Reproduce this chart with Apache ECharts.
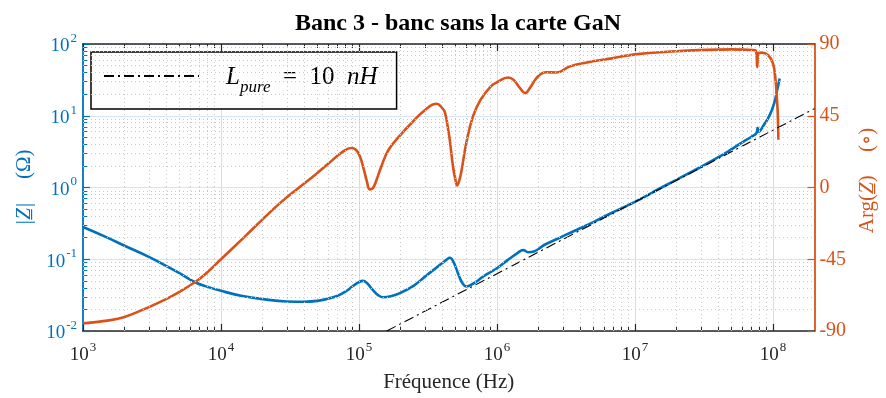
<!DOCTYPE html>
<html>
<head>
<meta charset="utf-8">
<script src="https://cdn.jsdelivr.net/npm/echarts@6/dist/echarts.min.js"></script>
<style>
  html, body { margin: 0; padding: 0; background: #fff; }
  #chart { width: 886px; height: 398px; }
</style>
</head>
<body>
<div id="chart"></div>
<script>
// Impedance magnitude |Z| (ohm) versus frequency (Hz)
const freqMag = [1e3, 1.5e3, 2e3, 3e3, 4e3, 5e3, 6.5e3, 8e3, 1e4, 1.4e4, 2e4, 3e4, 4e4, 5e4, 6e4, 7e4, 8e4, 9e4,
  1e5, 1.07e5, 1.15e5, 1.25e5, 1.38e5, 1.5e5, 1.7e5, 2e5, 2.5e5, 3e5, 3.5e5, 4e5, 4.3e5, 4.55e5, 4.8e5, 5.2e5, 5.6e5, 6e5,
  7e5, 8e5, 1e6, 1.2e6, 1.4e6, 1.55e6, 1.7e6, 1.85e6, 2.2e6, 2.7e6, 3.2e6, 4e6, 5e6, 7e6, 1e7, 1.5e7, 2e7, 3e7, 4e7,
  5e7, 6e7, 7e7, 7.6e7, 7.75e7, 7.9e7, 8.5e7, 9.5e7, 1.03e8, 1.08e8, 1.12e8];
const magZ = [0.281, 0.2, 0.154, 0.108, 0.081, 0.064, 0.0478, 0.0412, 0.0363, 0.031, 0.0278, 0.0258, 0.0256, 0.0263, 0.0283, 0.031, 0.0355, 0.042,
  0.048, 0.050, 0.046, 0.038, 0.0315, 0.0295, 0.0305, 0.034, 0.043, 0.057, 0.072, 0.088, 0.098, 0.105, 0.095, 0.065, 0.047, 0.0418,
  0.048, 0.058, 0.075, 0.098, 0.121, 0.134, 0.125, 0.128, 0.158, 0.19, 0.222, 0.27, 0.33, 0.455, 0.63, 0.96, 1.28, 1.93, 2.62,
  3.4, 4.25, 5.1, 5.75, 6.8, 6.0, 7.2, 10.3, 15.8, 24, 33];

// Impedance argument (degrees) versus frequency (Hz)
const freqArg = [1e3, 1.5e3, 2e3, 3e3, 4e3, 5e3, 6.7e3, 8e3, 1e4, 1.5e4, 2e4, 2.7e4, 3.5e4, 4.9e4, 6.1e4, 7.6e4, 8.8e4, 9.5e4,
  1.01e5, 1.07e5, 1.14e5, 1.2e5, 1.26e5, 1.33e5, 1.45e5, 1.64e5,
  2e5, 2.4e5, 3e5, 3.65e5, 4e5, 4.2e5, 4.4e5, 4.55e5, 4.8e5, 5e5, 5.15e5, 5.3e5, 5.5e5, 6e5, 6.7e5, 7.6e5, 9e5,
  1e6, 1.21e6, 1.32e6, 1.47e6, 1.6e6, 1.73e6, 1.98e6, 2.27e6, 2.7e6, 3.35e6, 4.4e6, 6.8e6, 1e7, 2e7, 3e7, 5e7,
  7.2e7, 7.55e7, 7.7e7, 7.85e7, 8.3e7, 9.2e7, 1e8, 1.045e8, 1.067e8, 1.084e8, 1.096e8];
const argZ = [-85.2, -83.5, -81.2, -75, -70, -65.5, -58.5, -53, -45, -30.5, -20, -9.5, -1.5, 8.5, 15.5, 22.3, 24.8, 23.7,
  20, 13.3, 4, -1.2, -0.5, 3.9, 13, 23.7,
  33, 40.4, 48.5, 52.5, 50, 47, 38, 30, 13.3, 5, 1.3, 3.5, 9.2, 28, 44.6, 55, 63.3,
  66, 69, 67.5, 62.3, 59.2, 62.3, 69.6, 72.3, 72.1, 75.8, 78.3, 81, 83.5, 85.5, 86.2, 86.6,
  86.2, 85.5, 75.5, 84.5, 84.6, 83.1, 78, 67.5, 57, 46.7, 30];

// Pure 10 nH inductance, straight line in log-log coordinates
const pureFreq = [1.59e5, 2e8];
const pureZ = [0.01, 12.57];

// Axis ticks
const freqDecades = [1e3, 1e4, 1e5, 1e6, 1e7, 1e8];
const magDecades = [1e-2, 1e-1, 1e0, 1e1, 1e2];
const argTicks = [-90, -45, 0, 45, 90];

function minorsOf(decades, upper) {
  const out = [];
  decades.forEach(d => {
    for (let k = 2; k <= 9; k++) {
      const v = d * k;
      if (v < upper * 0.999) out.push(v);
    }
  });
  return out;
}
const freqMinor = minorsOf(freqDecades, 2e8);
const magMinor = minorsOf(magDecades, 100);

const BLUE = '#0072BD';
const ORANGE = '#D95319';
const INK = '#262626';
const SERIF = '"Liberation Serif", "DejaVu Serif", serif';

const pow10 = v => {
  const e = Math.round(Math.log10(v));
  return '{b|10}{s|' + e + '}';
};
const supRich = color => ({
  b: { fontFamily: SERIF, fontSize: 19, color: color, verticalAlign: 'bottom', lineHeight: 24 },
  s: { fontFamily: SERIF, fontSize: 13, color: color, verticalAlign: 'top', lineHeight: 24, padding: [0, 0, 0, 1] }
});

const chart = echarts.init(document.getElementById('chart'), null, { renderer: 'canvas' });

const xBase = { type: 'log', logBase: 10, min: 1e3, max: 2e8, gridIndex: 0 };
const yBase = { type: 'log', logBase: 10, min: 1e-2, max: 1e2, gridIndex: 0 };

chart.setOption({
  animation: false,
  backgroundColor: '#fff',
  title: {
    text: 'Banc 3 - banc sans la carte GaN',
    left: 453, top: 7, textAlign: 'center',
    textStyle: { fontFamily: SERIF, fontWeight: 'bold', fontSize: 24, color: '#000' }
  },
  grid: { left: 83, right: 60, top: 44, bottom: 66, containLabel: false },
  legend: {
    data: ['pure'],
    left: 91, top: 52,
    padding: [13, 19, 13, 12],
    backgroundColor: '#fff',
    borderColor: '#000', borderWidth: 1.5,
    itemWidth: 95, itemHeight: 14,
    itemStyle: { opacity: 0 },
    selectedMode: false,
    formatter: () => '{i|L}{p|pure}{n|\u2002=\u200210\u2002}{i|nH}',
    textStyle: {
      padding: [0, 0, 0, 22],
      rich: {
        i: { fontFamily: SERIF, fontStyle: 'italic', fontSize: 25, color: '#000', verticalAlign: 'bottom', lineHeight: 28 },
        p: { fontFamily: SERIF, fontStyle: 'italic', fontSize: 17, color: '#000', verticalAlign: 'bottom', lineHeight: 20, padding: [0, 0, -6, 0] },
        n: { fontFamily: SERIF, fontSize: 25, color: '#000', verticalAlign: 'bottom', lineHeight: 28 }
      }
    }
  },
  xAxis: [
    Object.assign({}, xBase, {
      position: 'bottom',
      name: 'Fréquence (Hz)', nameLocation: 'middle', nameGap: 41,
      nameTextStyle: { fontFamily: SERIF, fontSize: 21, color: INK },
      axisLine: { show: true, onZero: false, lineStyle: { color: INK, width: 1.5 } },
      axisTick: { show: true, inside: true, length: 7, customValues: freqDecades, lineStyle: { color: INK, width: 1.2 } },
      axisLabel: { show: true, customValues: freqDecades, margin: 10, formatter: pow10, rich: supRich(INK) },
      splitLine: { show: true, lineStyle: { color: '#dcdcdc', width: 1 } }
    }),
    Object.assign({}, xBase, {
      position: 'bottom',
      axisLine: { show: false, onZero: false },
      axisTick: { show: true, inside: true, length: 4, customValues: freqMinor, lineStyle: { color: INK, width: 1 } },
      axisLabel: { show: false },
      splitLine: { show: false }
    }),
    Object.assign({}, xBase, {
      position: 'top',
      axisLine: { show: true, onZero: false, lineStyle: { color: INK, width: 1.5 } },
      axisTick: { show: true, inside: true, length: 7, customValues: freqDecades, lineStyle: { color: INK, width: 1.2 } },
      axisLabel: { show: false },
      splitLine: { show: false }
    }),
    Object.assign({}, xBase, {
      position: 'top',
      axisLine: { show: false, onZero: false },
      axisTick: { show: true, inside: true, length: 4, customValues: freqMinor, lineStyle: { color: INK, width: 1 } },
      axisLabel: { show: false },
      splitLine: { show: false }
    })
  ],
  yAxis: [
    Object.assign({}, yBase, {
      position: 'left',
      name: '{z|\u007CZ\u0332\u007C}{g|    }{u|(\u03A9)}',
      nameLocation: 'middle', nameGap: 44, nameRotate: 90,
      nameTextStyle: {
        color: BLUE,
        rich: {
          z: { fontFamily: SERIF, fontStyle: 'italic', fontSize: 21, color: BLUE },
          g: { fontSize: 21 },
          u: { fontFamily: SERIF, fontSize: 21, color: BLUE }
        }
      },
      axisLine: { show: true, onZero: false, lineStyle: { color: BLUE, width: 1.8 } },
      axisTick: { show: true, inside: true, length: 7, customValues: magDecades, lineStyle: { color: BLUE, width: 1.2 } },
      axisLabel: { show: true, customValues: magDecades, margin: 6, formatter: pow10, rich: supRich(BLUE) },
      splitLine: { show: true, lineStyle: { color: '#d4e6f4', width: 1 } }
    }),
    Object.assign({}, yBase, {
      position: 'left',
      axisLine: { show: false, onZero: false },
      axisTick: { show: true, inside: true, length: 4, customValues: magMinor, lineStyle: { color: BLUE, width: 1 } },
      axisLabel: { show: false },
      splitLine: { show: false }
    }),
    {
      type: 'value', gridIndex: 0, position: 'right',
      min: -90, max: 90, interval: 45,
      name: '{a|Arg(}{z|Z\u0332}{a|)}{g|    }{a|(\u2218)}',
      nameLocation: 'middle', nameGap: 38, nameRotate: 90,
      nameTextStyle: {
        color: ORANGE,
        padding: [0, 0, 0, 14],
        rich: {
          a: { fontFamily: SERIF, fontSize: 21, color: ORANGE },
          z: { fontFamily: SERIF, fontStyle: 'italic', fontSize: 21, color: ORANGE },
          g: { fontSize: 21 }
        }
      },
      axisLine: { show: true, onZero: false, lineStyle: { color: ORANGE, width: 1.8 } },
      axisTick: { show: true, inside: true, length: 7, lineStyle: { color: ORANGE, width: 1.2 } },
      axisLabel: { show: true, margin: 5, fontFamily: SERIF, fontSize: 20, color: ORANGE,
        formatter: v => (argTicks.indexOf(v) >= 0 ? String(v) : '') },
      splitLine: { show: false }
    }
  ],
  series: [
    {
      // dotted minor grid
      name: 'grid', type: 'line', xAxisIndex: 0, yAxisIndex: 0, data: [], silent: true, z: 1,
      markLine: {
        silent: true, animation: false, symbol: ['none', 'none'],
        label: { show: false }, emphasis: { disabled: true },
        data: freqMinor.map(v => ({ xAxis: v, lineStyle: { color: '#c6c6c6', width: 1, type: [1, 3] } }))
          .concat(magMinor.map(v => ({ yAxis: v, lineStyle: { color: '#b0d0ea', width: 1, type: [1, 3] } })))
      }
    },
    {
      name: 'mag', type: 'line', xAxisIndex: 0, yAxisIndex: 0, z: 3,
      data: freqMag.map((f, i) => [f, magZ[i]]),
      showSymbol: false, symbol: 'none', smooth: 0.45,
      lineStyle: { color: BLUE, width: 2.6 }
    },
    {
      name: 'arg', type: 'line', xAxisIndex: 0, yAxisIndex: 2, z: 3,
      data: freqArg.map((f, i) => [f, argZ[i]]),
      showSymbol: false, symbol: 'none', smooth: 0.45,
      lineStyle: { color: ORANGE, width: 2.6 }
    },
    {
      name: 'pure', type: 'line', xAxisIndex: 0, yAxisIndex: 0, z: 4,
      data: pureFreq.map((f, i) => [f, pureZ[i]]),
      showSymbol: false, symbol: 'none',
      lineStyle: { color: '#000', width: 1.1, type: [10, 4, 2, 4] },
      itemStyle: { color: '#000' }
    }
  ]
});
</script>
</body>
</html>
